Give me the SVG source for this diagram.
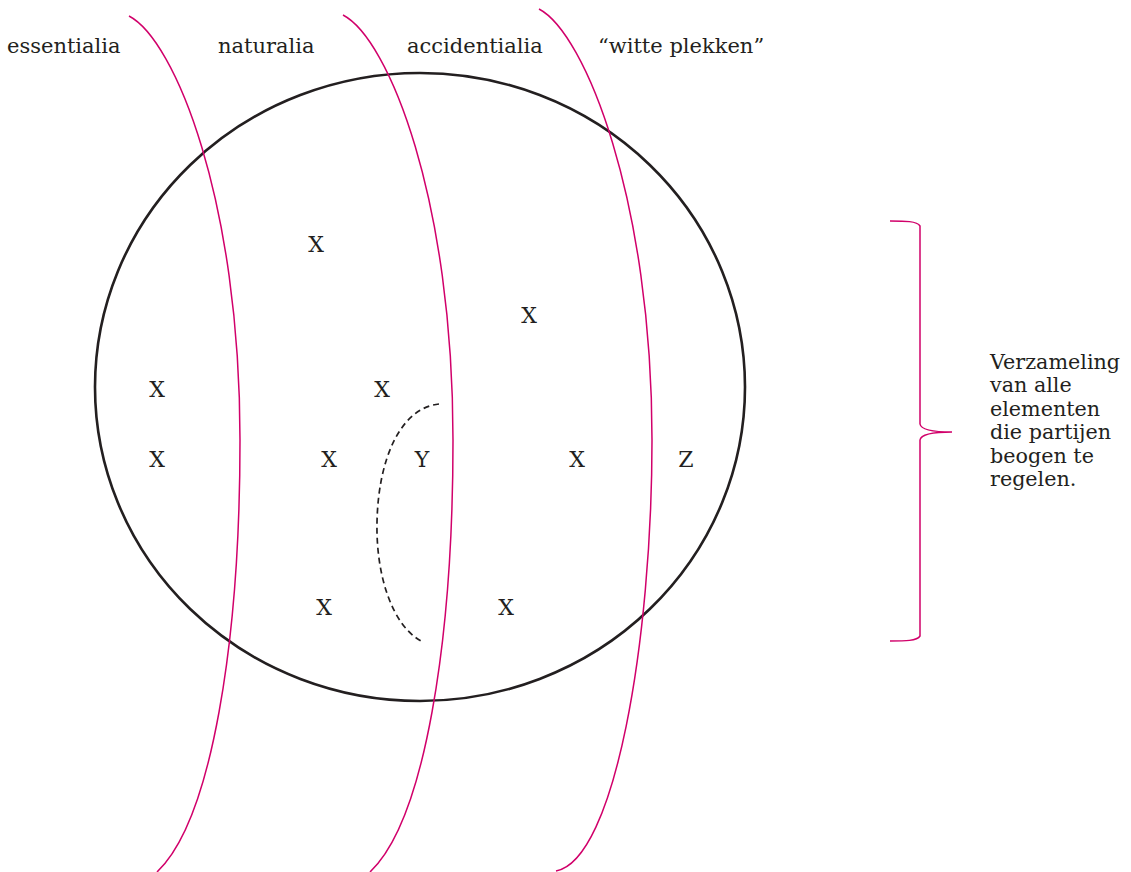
<svg xmlns="http://www.w3.org/2000/svg" width="1131" height="872" viewBox="0 0 1131 872">
<style>
  .t { font-family: "DejaVu Serif", "Liberation Serif", serif; font-size: 21px; fill: #231f20; }
  .m { font-family: "DejaVu Serif", "Liberation Serif", serif; font-size: 22px; fill: #231f20; text-anchor: middle; }
  .r { font-family: "DejaVu Serif", "Liberation Serif", serif; font-size: 20.7px; fill: #231f20; }
  .mag { fill: none; stroke: #d1006a; stroke-width: 1.5; }
</style>
<rect width="1131" height="872" fill="#ffffff"/>
<g id="set">
  <ellipse cx="420" cy="387" rx="325" ry="314" fill="none" stroke="#231f20" stroke-width="2.6"/>
</g>
<g id="connectors">
  <path class="mag" d="M129,16 C175,40 240,200 240,440 C240,640 212,820 157,872"/>
  <path class="mag" d="M343,15 C389,39 453,200 453,440 C453,640 425,820 370,872"/>
  <path class="mag" d="M539,9 C585,33 652,200 652,440 C652,640 615,860 556,871"/>
  <path d="M439,404 C400,408 378,460 377,523 C376,575 392,625 421,641" fill="none" stroke="#231f20" stroke-width="1.7" stroke-dasharray="6,4"/>
  <path class="mag" d="M890,221 C905,221 917,221 920,226 L920,424 C921,430 935,432 952,432 C935,432 921,434 920,440 L920,636 C917,641 905,641 890,641"/>
</g>
<g id="labels">
  <text class="t" x="7" y="53">essentialia</text>
  <text class="t" x="218" y="53">naturalia</text>
  <text class="t" x="407" y="53">accidentialia</text>
  <text class="t" x="598" y="53">“witte plekken”</text>
</g>
<g id="elements">
  <text class="m" x="316" y="252">X</text>
  <text class="m" x="529" y="323">X</text>
  <text class="m" x="157" y="397">X</text>
  <text class="m" x="382" y="397">X</text>
  <text class="m" x="157" y="467">X</text>
  <text class="m" x="329" y="467">X</text>
  <text class="m" x="422" y="467">Y</text>
  <text class="m" x="577" y="467">X</text>
  <text class="m" x="686" y="467">Z</text>
  <text class="m" x="324" y="615">X</text>
  <text class="m" x="506" y="615">X</text>
</g>
<g id="description">
  <text class="r" x="990" y="369">Verzameling</text>
  <text class="r" x="990" y="392">van alle</text>
  <text class="r" x="990" y="416">elementen</text>
  <text class="r" x="990" y="439">die partijen</text>
  <text class="r" x="990" y="463">beogen te</text>
  <text class="r" x="990" y="486">regelen.</text>
</g>
</svg>
